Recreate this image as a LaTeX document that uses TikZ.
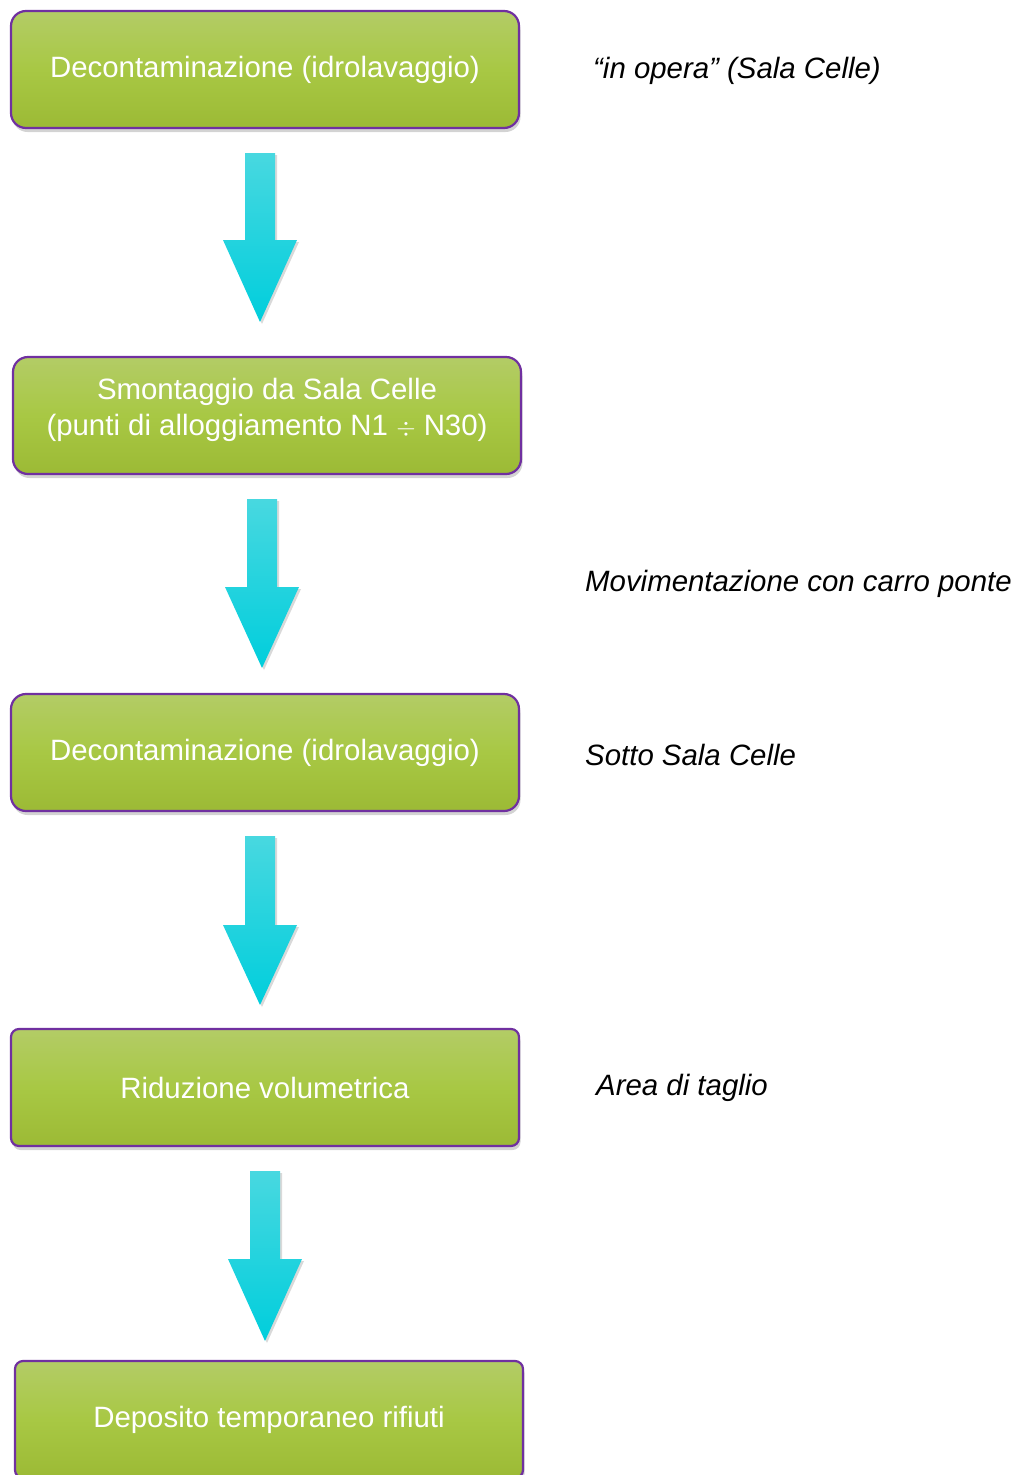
\documentclass[tikz,border=0pt]{standalone}
\usepackage{fontspec}
\setmainfont{Liberation Sans}
\usetikzlibrary{shadows,calc}
\definecolor{gtop}{HTML}{B3CC66}
\definecolor{gmid}{HTML}{A8C844}
\definecolor{gbot}{HTML}{9CBA35}
\definecolor{bord}{HTML}{7030A0}
\definecolor{atop}{HTML}{48D8E0}
\definecolor{abot}{HTML}{00CEDC}
\tikzset{
  stepbox/.style={draw=bord, line width=2.2pt, rounded corners=15pt,
    top color=gtop, bottom color=gbot, middle color=gmid,
    minimum width=508pt, minimum height=117pt, inner sep=0pt,
    text=white, align=center,
    font=\fontsize{29.4}{36}\selectfont,
    drop shadow={opacity=0.35, shadow xshift=1.5pt, shadow yshift=-4pt}},
  flowarrow/.style={top color=atop, bottom color=abot, draw=none,
    drop shadow={opacity=0.3, shadow xshift=2pt, shadow yshift=-2pt}},
  note/.style={anchor=west, inner sep=0pt, text=black,
    font=\fontsize{29.4}{36}\selectfont\itshape}
}
\newcommand{\blockarr}[4]{% x, ytop, yhead, ytip
  \path[flowarrow] (#1-15,#2) -- (#1+15,#2) -- (#1+15,#3) -- (#1+37,#3)
    -- (#1,#4) -- (#1-37,#3) -- (#1-15,#3) -- cycle;}
\begin{document}
\begin{tikzpicture}[x=1pt,y=-1pt]
\useasboundingbox (0,0) rectangle (1015,1475);
\clip (0,0) rectangle (1015,1475);
\node[stepbox] (b1) at (265,69.5) {Decontaminazione (idrolavaggio)};
\node[stepbox] (b2) at (267,415.5) {\raisebox{5pt}[\height][\depth]{\begin{tabular}{@{}c@{}}Smontaggio da Sala Celle\\[0pt](punti di alloggiamento N1 \(\div\) N30)\end{tabular}}};
\node[stepbox] (b3) at (265,752.5) {Decontaminazione (idrolavaggio)};
\node[stepbox, rounded corners=8pt] (b4) at (265,1087.5) {Riduzione volumetrica};
\node[stepbox, rounded corners=8pt] (b5) at (269,1419.5) {Deposito temporaneo rifiuti};
\blockarr{260}{153}{240}{322}
\blockarr{262}{499}{587}{668}
\blockarr{260}{836}{925}{1005}
\blockarr{265}{1171}{1259}{1341}
\node[note] (n1) at (593,71) {“in opera” (Sala Celle)};
\node[note] (n2) at (585,584) {Movimentazione con carro ponte};
\node[note] (n3) at (585,755) {Sotto Sala Celle};
\node[note] (n4) at (596,1088) {Area di taglio};
\end{tikzpicture}
\end{document}
